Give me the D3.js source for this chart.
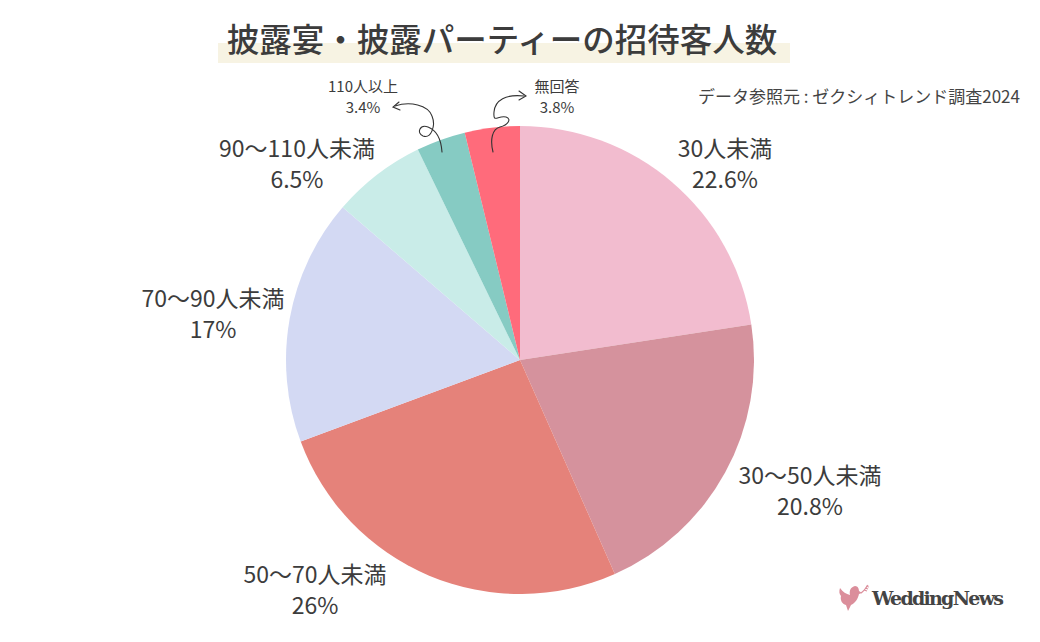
<!DOCTYPE html>
<html>
<head>
<meta charset="utf-8">
<script src="https://cdn.jsdelivr.net/npm/d3@7"></script>
<style>
  body { margin: 0; background: #fff; }
  svg { display: block; font-family: 'Noto Sans CJK JP', 'Noto Sans', sans-serif; }
</style>
</head>
<body>
<svg id="chart" width="1040" height="642"></svg>
<script>
// chart data
const categories = ['30人未満', '30〜50人未満', '50〜70人未満', '70〜90人未満', '90〜110人未満', '110人以上', '無回答']
const values = [22.6, 20.8, 26, 17, 6.5, 3.4, 3.8]
const valueLabels = ['22.6%', '20.8%', '26%', '17%', '6.5%', '3.4%', '3.8%']
const colors = ['#F2BCCF', '#D5929D', '#E5827A', '#D3D9F3', '#C9ECE8', '#86CBC3', '#FF6B7B']

const svg = d3.select('#chart')
const cx = 520, cy = 360, r = 234

// title with highlight band
svg.append('rect')
    .attr('x', 218).attr('y', 43)
    .attr('width', 572).attr('height', 20)
    .attr('fill', '#F7F3E3')
svg.append('text')
    .attr('x', 502).attr('y', 52)
    .attr('text-anchor', 'middle')
    .attr('font-size', 32.5)
    .attr('font-weight', 500)
    .attr('fill', '#3c3c3c')
    .text('披露宴・披露パーティーの招待客人数')

svg.append('text')
    .attr('x', 1020).attr('y', 103)
    .attr('text-anchor', 'end')
    .attr('font-size', 17)
    .attr('fill', '#444')
    .text('データ参照元 : ゼクシィトレンド調査2024')

const pie = d3.pie().sort(null).value(d => d)
const arc = d3.arc().innerRadius(0).outerRadius(r)
const arcs = pie(values)

const g = svg.append('g').attr('transform', `translate(${cx},${cy})`)
g.selectAll('path.slice')
    .data(arcs)
    .enter()
    .append('path')
    .attr('class', 'slice')
    .attr('d', arc)
    .attr('fill', (d, i) => colors[i])

// label positions (big ones placed outside, the two thin slices use arrows)
const labelPos = [
    { x: 725, y: 157, size: 23, gap: 31 },
    { x: 810, y: 484, size: 23, gap: 31 },
    { x: 315, y: 583, size: 23, gap: 31 },
    { x: 213, y: 307, size: 23, gap: 31 },
    { x: 297, y: 157, size: 23, gap: 31 },
    { x: 363, y: 92, size: 15, gap: 21 },
    { x: 557, y: 92, size: 15, gap: 21 }
]

const labels = svg.selectAll('g.lbl')
    .data(arcs)
    .enter()
    .append('g')
    .attr('class', 'lbl')

labels.append('text')
    .attr('x', (d, i) => labelPos[i].x)
    .attr('y', (d, i) => labelPos[i].y)
    .attr('text-anchor', 'middle')
    .attr('font-size', (d, i) => labelPos[i].size)
    .attr('fill', '#3c3c3c')
    .text((d, i) => categories[i])
labels.append('text')
    .attr('x', (d, i) => labelPos[i].x)
    .attr('y', (d, i) => labelPos[i].y + labelPos[i].gap)
    .attr('text-anchor', 'middle')
    .attr('font-size', (d, i) => labelPos[i].size)
    .attr('fill', '#3c3c3c')
    .text((d, i) => valueLabels[i])

// hand drawn curly arrows
const arrows = [
    'M442,152 C441,138 436,130 428,127 C420,124 416,133 423,136 C431,139 436,126 432,116 C428,105 410,101 395,106',
    'M399,102 L393,107 L400,110',
    'M493,152 C490,140 492,129 500,127 C508,125 512,119 506,117 C498,115 493,124 494,112 C495,100 506,94 524,96',
    'M519,91 L526,96 L519,100'
]
svg.selectAll('path.arrow')
    .data(arrows)
    .enter()
    .append('path')
    .attr('class', 'arrow')
    .attr('d', d => d)
    .attr('fill', 'none')
    .attr('stroke', '#333')
    .attr('stroke-width', 1.1)
    .attr('stroke-linecap', 'round')

// logo
const logo = svg.append('g').attr('transform', 'translate(838,584)')
logo.append('path')
    .attr('d', 'M2,4 C5,8 8,10 12,11 C11,6 13,3 17,2 C20,2 21,5 21,7 L24,9 L21,10 C20,15 17,19 13,21 L10,27 L8,21 C4,20 2,16 3,12 C1,10 1,7 2,4 Z')
    .attr('fill', '#DB8E9B')
logo.append('path')
    .attr('d', 'M23,9 C26,7 28,4 30,1 M26,6 L29,7 M27,4 L30,5 M28,2 L31,3')
    .attr('fill', 'none')
    .attr('stroke', '#DB8E9B')
    .attr('stroke-width', 1.2)
svg.append('text')
    .attr('x', 872).attr('y', 605)
    .attr('font-family', "'DejaVu Serif', 'Liberation Serif', serif")
    .attr('font-weight', 'bold')
    .attr('font-size', 19)
    .attr('fill', '#444')
    .attr('textLength', 132)
    .text('WeddingNews')
</script>
</body>
</html>
